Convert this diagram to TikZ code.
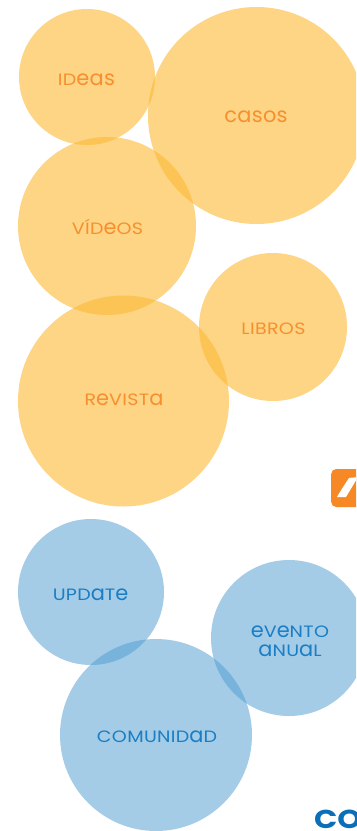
\documentclass[tikz,border=0pt]{standalone}
\usepackage{fontspec}
\setmainfont{Poppins}
\newfontfamily\capfont[FakeStretch=1.16,LetterSpace=2]{Poppins}
\newfontfamily\lowfont[FakeStretch=1,LetterSpace=1.5]{Poppins}
\newfontfamily\brandfont[FakeStretch=1.18]{Poppins}
\definecolor{orfill}{RGB}{252,185,52}
\definecolor{blfill}{RGB}{75,155,209}
\definecolor{ortext}{RGB}{247,143,46}
\definecolor{bltext}{RGB}{27,126,196}
\definecolor{brand}{RGB}{10,111,184}
\definecolor{iconfill}{RGB}{247,136,38}
\newcommand\lowc[1]{{\lowfont\fontsize{21}{21}\selectfont #1}}
\newcommand\capc[1]{{\capfont\fontsize{16.5}{16.5}\selectfont #1}}
\tikzset{
  bubble/.style={circle,inner sep=0pt,outer sep=0pt,draw=none,minimum size=#1},
  orbubble/.style={bubble=#1,fill=orfill,fill opacity=.6},
  blbubble/.style={bubble=#1,fill=blfill,fill opacity=.5},
  lab/.style={inner sep=0pt,align=center},
  orlab/.style={lab,text=ortext},
  bllab/.style={lab,text=bltext}
}
\begin{document}
\begin{tikzpicture}[x=1bp,y=-1bp]
\useasboundingbox (0,0) rectangle (356,831);
\clip (0,0) rectangle (356,831);
\fill[white] (0,0) rectangle (356,831);
\node[orbubble=136bp] (ideas) at (87,77) {};
\node[orbubble=217bp] (casos) at (256.5,115.5) {};
\node[orbubble=178bp] (videos) at (107,226) {};
\node[orbubble=148bp] (libros) at (273,327) {};
\node[orbubble=211bp] (revista) at (123.5,401) {};
\node[blbubble=146bp] (update) at (91,592) {};
\node[blbubble=156bp] (evento) at (289,638) {};
\node[blbubble=192bp] (comunidad) at (156,735) {};
\node[orlab] (t1) at (86.5,79.5) {\capc{ID}\lowc{eas}};
\node[orlab] (t2) at (256,116.5) {\lowc{casos}};
\node[orlab] (t3) at (107.5,227) {\capc{VÍD}\lowc{e}\capc{OS}};
\node[orlab] (t4) at (273.5,329) {\capc{LIBROS}};
\node[orlab] (t5) at (124,399.5) {\capc{R}\lowc{e}\capc{VIST}\lowc{a}};
\node[bllab] (t6) at (90.5,594.5) {\capc{UPD}\lowc{a}\capc{T}\lowc{e}};
\node[bllab] (t7) at (290,631.5) {\lowc{e}\capc{V}\lowc{e}\capc{NTO}};
\node[bllab] (t8) at (290,651) {\lowc{a}\capc{NU}\lowc{a}\capc{L}};
\node[bllab] (t9) at (157,736.5) {\capc{COMUNID}\lowc{a}\capc{D}};
\node[rectangle,rounded corners=5bp,fill=iconfill,minimum width=50bp,minimum height=38bp,inner sep=0pt,anchor=west] (icon) at (331,488) {};
\fill[white] (337,497) -- (346,497) -- (358,477) -- (349,478) .. controls (345,484) and (341,490) .. cycle;
\node[inner sep=0pt,anchor=base west,text=brand,font=\brandfont\fontsize{26}{26}\selectfont\bfseries] (brandname) at (314,828) {CO};
\end{tikzpicture}
\end{document}
